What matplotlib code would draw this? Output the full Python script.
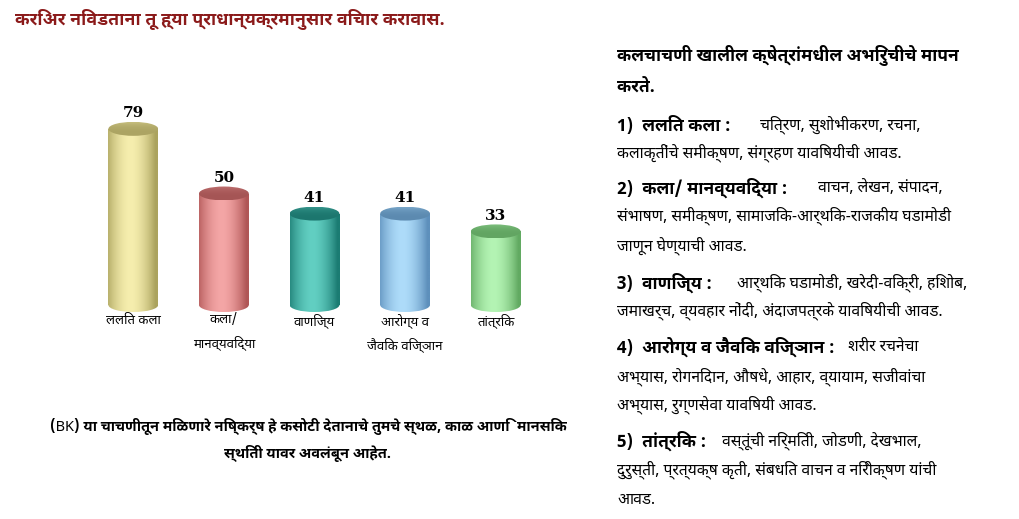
import numpy as np
import matplotlib
matplotlib.use("Agg")
import matplotlib.pyplot as plt
from matplotlib.patches import Ellipse
from matplotlib.colors import to_rgb

plt.rcParams['font.family'] = ['Noto Sans Devanagari UI', 'Noto Sans Devanagari', 'DejaVu Sans']

categories = ["ललित कला", "कला/\nमानव्यविद्या", "वाणिज्य", "आरोग्य व\nजैविक विज्ञान", "तांत्रिक"]
scores = [79, 50, 41, 41, 33]
edge_cols = ["#ABA35E", "#B05656", "#1B7C73", "#5E90BC", "#62AA62"]
mid_cols = ["#F6EEAE", "#F4A6A6", "#62CFC2", "#AEDCFA", "#B4F4B4"]
top_cols = ["#ACA463", "#A55555", "#1C766E", "#5C8AB0", "#62A562"]

title = "करिअर निवडताना तू ह्या प्राधान्यक्रमानुसार विचार करावास."
note = ("(BK) या चाचणीतून मिळणारे निष्कर्ष हे कसोटी देतानाचे तुमचे स्थळ, काळ आणि  मानसिक\n"
        "स्थिती यावर अवलंबून आहेत.")
heading = ["कलचाचणी खालील क्षेत्रांमधील अभिरुचीचे मापन", "करते."]
items = [
    ("1)  ललित कला :", ["चित्रण, सुशोभीकरण, रचना,", "कलाकृतींचे समीक्षण, संग्रहण याविषयीची आवड."]),
    ("2)  कला/ मानव्यविद्या :", ["वाचन, लेखन, संपादन,", "संभाषण, समीक्षण, सामाजिक-आर्थिक-राजकीय घडामोडी",
                                "जाणून घेण्याची आवड."]),
    ("3)  वाणिज्य :", ["आर्थिक घडामोडी, खरेदी-विक्री, हिशोब,", "जमाखर्च, व्यवहार नोंदी, अंदाजपत्रके याविषयीची आवड."]),
    ("4)  आरोग्य व जैविक विज्ञान :", ["शरीर रचनेचा", "अभ्यास, रोगनिदान, औषधे, आहार, व्यायाम, सजीवांचा",
                                     "अभ्यास, रुग्णसेवा याविषयी आवड."]),
    ("5)  तांत्रिक :", ["वस्तूंची निर्मिती, जोडणी, देखभाल,", "दुरुस्ती, प्रत्यक्ष कृती, संबधित वाचन व निरीक्षण यांची",
                       "आवड."]),
]

W, H = 1019, 519
fig = plt.figure(figsize=(W / 100, H / 100), dpi=100)


def fx(px):
    return px / W


def fy(py):
    return 1 - py / H


# bar chart axes: x unit = 90.75 px, y unit = 2.23 px, y=0 at 305 px
ax = fig.add_axes([fx(88), fy(312), (541 - 88) / W, (312 - 104) / H])
ax.set_xlim(-0.5, 4.5)
ax.set_ylim(-7 / 2.23, (312 - 104) / 2.23 - 7 / 2.23)
for s in ax.spines.values():
    s.set_visible(False)
ax.set_yticks([])
x = np.arange(len(scores))
ax.set_xticks(x, categories, fontsize=9.5, linespacing=1.75, va='top')
ax.tick_params(axis='x', length=0, pad=1)

bw = 0.55
eh = 14 / 2.23
bars = ax.bar(x, scores, width=bw, color='none', edgecolor='none')

t = np.linspace(-1, 1, 200)
w = np.clip(1 - np.abs(t + 0.1) ** 1.8, 0, 1)
tv = np.linspace(0, 1, 40)
for b, v, ec, mc, tc in zip(bars, scores, edge_cols, mid_cols, top_cols):
    x0 = b.get_x()
    xc = x0 + bw / 2
    e = np.array(to_rgb(ec))
    m = np.array(to_rgb(mc))
    grad = (e[None, :] + (m - e)[None, :] * w[:, None])[None, :, :]
    im = ax.imshow(grad, extent=(x0, x0 + bw, -eh / 2, v), aspect='auto', zorder=2,
                   interpolation='bilinear')
    im.set_clip_path(b)
    bot = Ellipse((xc, 0), bw, eh, facecolor='none', edgecolor='none')
    ax.add_patch(bot)
    im2 = ax.imshow(grad, extent=(x0, x0 + bw, -eh / 2, v), aspect='auto', zorder=2,
                    interpolation='bilinear')
    im2.set_clip_path(bot)
    # top cap: darker at the far rim, a little lighter toward the front
    c = np.array(to_rgb(tc))
    lite = c + (m - c) * 0.35
    cap = (c[None, :] + (lite - c)[None, :] * (tv[:, None] ** 3))[:, None, :]
    top = Ellipse((xc, v), bw, eh, facecolor='none', edgecolor='none')
    ax.add_patch(top)
    im3 = ax.imshow(cap, extent=(x0, x0 + bw, v + eh / 2, v - eh / 2), aspect='auto', zorder=3,
                    interpolation='bilinear', origin='upper')
    im3.set_clip_path(top)
    ax.text(xc, v + eh / 2 + 0.6, str(v), ha='center', va='bottom', fontsize=11,
            fontweight='bold', family='DejaVu Serif', zorder=4)

ax.set_xlim(-0.5, 4.5)
ax.set_ylim(-7 / 2.23, (312 - 104) / 2.23 - 7 / 2.23)

# title
fig.text(fx(15), fy(20), title, fontsize=12.8, fontweight='bold', color='#8B1A1A', va='center')

# note under chart
fig.text(fx(308), fy(440), note, fontsize=10.5, fontweight='bold', style='italic', ha='center',
         va='center', linespacing=1.8)

# right panel
fig.text(fx(617), fy(55), heading[0], fontsize=12.5, fontweight='bold', va='center')
fig.text(fx(617), fy(88), heading[1], fontsize=12.5, fontweight='bold', va='center')
line_y = [[125, 153], [188, 216, 246], [283, 311], [347, 377, 405], [441, 470, 500]]
first_x = [760, 818, 737, 848, 722]
for (lab, lines), ys, x1 in zip(items, line_y, first_x):
    fig.text(fx(617), fy(ys[0]), lab, fontsize=12.5, fontweight='bold', va='center')
    fig.text(fx(x1), fy(ys[0]), lines[0], fontsize=11.3, va='center')
    for ln, yy in zip(lines[1:], ys[1:]):
        fig.text(fx(617), fy(yy), ln, fontsize=11.3, va='center')

fig.savefig("out.png", dpi=100)
